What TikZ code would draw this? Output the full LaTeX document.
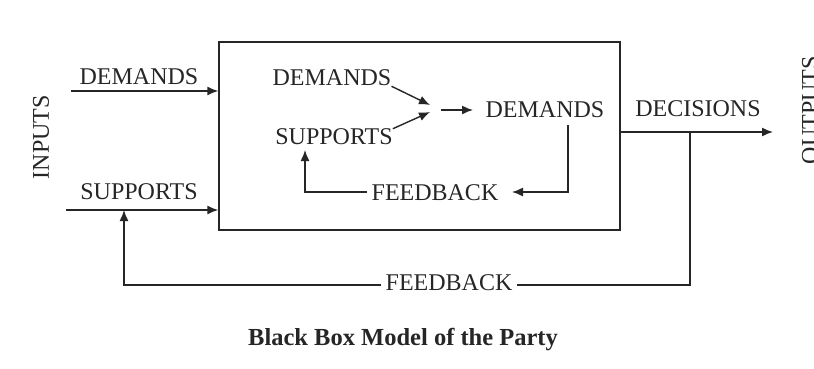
\documentclass[tikz,border=0pt]{standalone}
\usepackage{fontspec}
\setmainfont{Liberation Serif}
\usetikzlibrary{arrows.meta}
\begin{document}
\begin{tikzpicture}[x=1pt,y=-1pt,
  lbl/.style={inner sep=0pt,font=\fontsize{24}{24}\selectfont,text=black!85},
  ttl/.style={inner sep=0pt,font=\fontsize{24.5}{24.5}\selectfont\bfseries,text=black!85},
  ln/.style={line width=1.4pt,draw=black!85},
  arr/.style={ln,-{Latex[length=11pt,width=9pt]}}]
\useasboundingbox[fill=white] (0,0) rectangle (814,368);
% black box
\node[ln,draw,minimum width=401pt,minimum height=188pt,inner sep=0pt] (box) at (419.5,136) {};
% left side
\node[lbl,rotate=90] (inputs) at (41,137) {INPUTS};
\node[lbl] (dem1) at (139,77) {DEMANDS};
\node[lbl] (sup1) at (139,192) {SUPPORTS};
\coordinate (inD) at (71,91);
\coordinate (inS) at (66,210);
\draw[arr] (inD) -- (inD -| box.west);
\draw[arr] (inS) -- (inS -| box.west);
% inner
\node[lbl] (dem2) at (332,78) {DEMANDS};
\node[lbl] (sup2) at (334,137) {SUPPORTS};
\node[lbl] (dem3) at (545,110) {DEMANDS};
\node[lbl] (fb1) at (435,193) {FEEDBACK};
\coordinate (jt) at (430,105);
\coordinate (jb) at (430,112);
\coordinate (j1) at (441,110);
\coordinate (j2) at (473,110);
\draw[arr] (dem2.south east) -- (jt);
\draw[arr] (sup2.north east) -- (jb);
\draw[arr] (j1) -- (j2);
\coordinate (c1) at (568,125);
\coordinate (c2) at (568,192);
\coordinate (c3) at (512,192);
\draw[arr] (c1) -- (c2) -- (c3);
\coordinate (c4) at (367,192);
\coordinate (c5) at (305,150);
\draw[arr] (c4) -| (c5);
% right side
\node[lbl] (dec) at (698,109) {DECISIONS};
\node[lbl,rotate=90] (outputs) at (810,110) {OUTPUTS};
\coordinate (o2) at (773,132);
\draw[arr] (o2 -| box.east) -- (o2);
% outer feedback
\node[lbl] (fb2) at (449,283) {FEEDBACK};
\coordinate (f1) at (690,132);
\coordinate (f2) at (690,285);
\coordinate (f3) at (517,285);
\draw[ln] (f1) -- (f2) -- (f3);
\coordinate (g1) at (381,285);
\coordinate (g2) at (124,285);
\coordinate (g3) at (124,210);
\draw[arr] (g1) -- (g2) -- (g3);
% title
\node[ttl] (title) at (403,340) {Black Box Model of the Party};
\end{tikzpicture}
\end{document}
